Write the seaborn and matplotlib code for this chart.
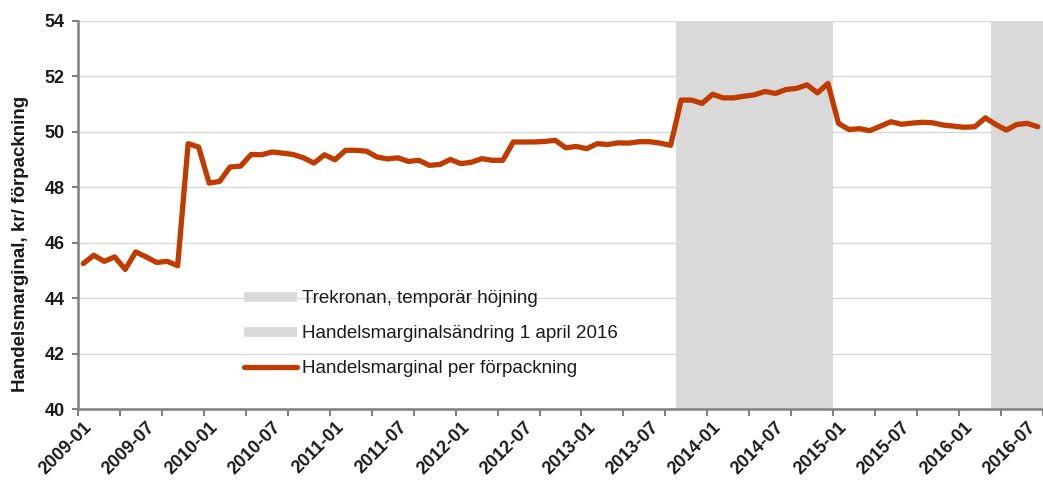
import numpy as np
import pandas as pd
import matplotlib
matplotlib.use('Agg')
import matplotlib.pyplot as plt
import matplotlib.transforms as mtransforms
from matplotlib.lines import Line2D
import seaborn as sns

# monthly categories 2009-01 .. 2016-08
months = [f"{y}-{m:02d}" for y in range(2009, 2017) for m in range(1, 13)][:92]

marginal = [
    45.25, 45.55, 45.33, 45.49, 45.04, 45.67, 45.49, 45.29, 45.33, 45.17,
    49.57, 49.45, 48.15, 48.21, 48.73, 48.76, 49.18, 49.17, 49.27, 49.23,
    49.18, 49.06, 48.87, 49.17, 48.99, 49.33, 49.33, 49.30, 49.09, 49.02,
    49.06, 48.93, 48.97, 48.79, 48.82, 49.00, 48.85, 48.90, 49.03, 48.97,
    48.97, 49.63, 49.63, 49.63, 49.65, 49.69, 49.42, 49.47, 49.39, 49.57,
    49.54, 49.60, 49.59, 49.64, 49.64, 49.59, 49.51, 51.14, 51.14, 51.02,
    51.35, 51.22, 51.22, 51.28, 51.33, 51.45, 51.38, 51.52, 51.56, 51.69,
    51.40, 51.74, 50.30, 50.08, 50.11, 50.04, 50.20, 50.36, 50.27, 50.31,
    50.34, 50.32, 50.24, 50.20, 50.16, 50.18, 50.50, 50.26, 50.06, 50.26,
    50.30, 50.18,
]

# shaded periods (first and last month, inclusive)
trekronan = ("2013-10", "2014-12")
marginal_change = ("2016-04", "2016-08")

labels = ["Trekronan, temporär höjning",
          "Handelsmarginalsändring 1 april 2016",
          "Handelsmarginal per förpackning"]
ylabel = "Handelsmarginal, kr/ förpackning"

line_color = "#C03B00"
shade_color = "#D9D9D9"
text_color = "#1a1a1a"

sns.set_theme(style="white")
plt.rcParams['font.family'] = ['Liberation Sans', 'DejaVu Sans']

df = pd.DataFrame({"idx": np.arange(len(months)), "month": months, "value": marginal})

fig = plt.figure(figsize=(10.43, 4.82), dpi=100)
ax = fig.add_axes([78 / 1043, (482 - 409.3) / 482, 965 / 1043, 388.6 / 482])

for start, end in [trekronan, marginal_change]:
    ax.axvspan(months.index(start) - 0.5, months.index(end) + 0.5,
               color=shade_color, lw=0, zorder=0)

sns.lineplot(data=df, x="idx", y="value", color=line_color, lw=3.8,
             ax=ax, zorder=3)

ax.set_xlim(-0.5, len(months) - 0.5)
ax.set_ylim(40, 54)
ax.set_yticks(np.arange(40, 55, 2))
ax.yaxis.grid(True, color="#D9D9D9", lw=1.0)
ax.set_axisbelow(True)

label_pos = list(range(0, len(months), 6))
ax.set_xticks(label_pos)
ax.set_xticklabels([months[i] for i in label_pos], rotation=45, ha="right",
                   va="top", rotation_mode="anchor", fontweight="bold",
                   fontsize=13, color=text_color,
                   family=['Liberation Sans Narrow', 'Liberation Sans'])
shift = mtransforms.ScaledTranslation(-0.05, 0, fig.dpi_scale_trans)
for t in ax.get_xticklabels():
    t.set_transform(t.get_transform() + shift)
ax.set_xticks(np.arange(-0.5, len(months), 4), minor=True)
ax.tick_params(axis="x", which="major", length=0, pad=7)
ax.tick_params(axis="x", which="minor", length=5, width=1.5, color="#808080",
               direction="out", bottom=True)
ax.tick_params(axis="y", length=4.5, width=1.5, color="#808080", direction="out",
               left=True, labelsize=13, pad=5)
for t in ax.get_yticklabels():
    t.set_fontweight("bold")
    t.set_color(text_color)

for s in ["top", "right"]:
    ax.spines[s].set_visible(False)
for s in ["left", "bottom"]:
    ax.spines[s].set_color("#808080")
    ax.spines[s].set_linewidth(1.8)

ax.set_xlabel("")
ax.set_ylabel(ylabel, fontweight="bold", fontsize=13.5, color=text_color)
ax.yaxis.set_label_coords(-0.051, 0.425)

handles = [
    Line2D([0], [0], color=shade_color, lw=7, solid_capstyle="butt"),
    Line2D([0], [0], color=shade_color, lw=7, solid_capstyle="butt"),
    Line2D([0], [0], color=line_color, lw=3.8, solid_capstyle="round"),
]
leg = ax.legend(handles, labels, loc="upper left", bbox_to_anchor=(0.155, 0.35),
                frameon=False, fontsize=13.5, handlelength=2.8, handletextpad=0.25,
                labelspacing=0.95)
for t in leg.get_texts():
    t.set_color(text_color)

fig.savefig("out.png", dpi=100)
